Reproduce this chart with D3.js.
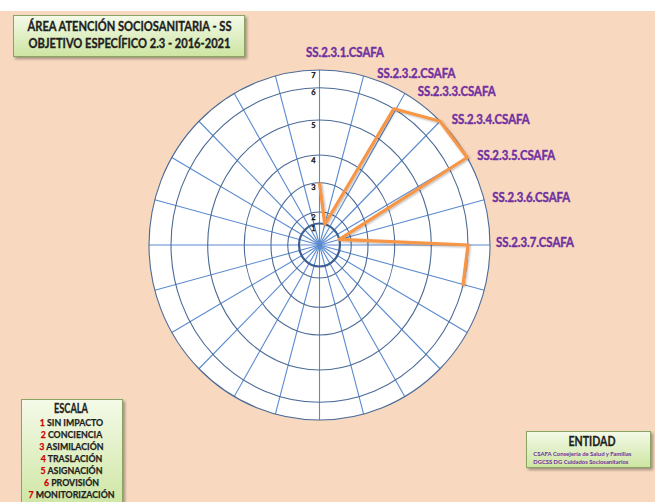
<!DOCTYPE html>
<html><head><meta charset="utf-8">
<script src="https://cdn.jsdelivr.net/npm/d3@7"></script>
<style>body{margin:0;background:#fff;} svg{display:block;}</style>
</head><body>
<svg id="c" width="655" height="502"></svg>
<script>
// ---------- data ----------
const categories = ["SS.2.3.1.CSAFA","SS.2.3.2.CSAFA","SS.2.3.3.CSAFA","SS.2.3.4.CSAFA","SS.2.3.5.CSAFA","SS.2.3.6.CSAFA","SS.2.3.7.CSAFA",
  "","","","","","","","","","","","","","","","",""];
const values = [3,1,6,7,7,1,6,6,null,null,null,null,null,null,null,null,null,null,null,null,null,null,null,null];
const tickValues = [1,2,3,4,5,6,7];
const titleLines = ["ÁREA ATENCIÓN SOCIOSANITARIA - SS","OBJETIVO ESPECÍFICO 2.3 - 2016-2021"];
const scaleTitle = "ESCALA";
const scaleNumbers = ["1","2","3","4","5","6","7"];
const scaleLevels = ["SIN IMPACTO","CONCIENCIA","ASIMILACIÓN","TRASLACIÓN","ASIGNACIÓN","PROVISIÓN","MONITORIZACIÓN"];
const entityTitle = "ENTIDAD";
const entityLines = ["CSAFA Consejería de Salud y Familias","DGCSS DG Cuidados Sociosanitarios"];

// ---------- setup ----------
const svg = d3.select("#c");
const W = 655, H = 502;
const FONT = "Lato, 'Open Sans', 'Liberation Sans', sans-serif";
const defs = svg.append("defs");
const g1 = defs.append("linearGradient").attr("id","gbox").attr("x1",0).attr("y1",0).attr("x2",0).attr("y2",1);
g1.append("stop").attr("offset","0%").attr("stop-color","#F4FAE8");
g1.append("stop").attr("offset","100%").attr("stop-color","#CDE5A2");
const sh = defs.append("filter").attr("id","shadow").attr("x","-10%").attr("y","-10%").attr("width","130%").attr("height","140%");
sh.append("feDropShadow").attr("dx",2).attr("dy",2).attr("stdDeviation",1.5).attr("flood-color","#000").attr("flood-opacity",0.35);
const lsh = defs.append("filter").attr("id","lshadow").attr("x","-10%").attr("y","-10%").attr("width","130%").attr("height","130%");
lsh.append("feDropShadow").attr("dx",1).attr("dy",1).attr("stdDeviation",1).attr("flood-color","#000").attr("flood-opacity",0.3);

// background
svg.append("rect").attr("x",0).attr("y",0).attr("width",W).attr("height",H).attr("fill","#ffffff");
svg.append("rect").attr("x",0).attr("y",11).attr("width",W).attr("height",H-11).attr("fill","#F8D9C0");

// ---------- radar ----------
const cx = 319.5, cy = 245;
const n = categories.length;
const angle = d3.scaleLinear().domain([0, n]).range([0, 2*Math.PI]);
// radial scales (the reference chart's rings are unevenly spaced & slightly elliptical)
const rX = d3.scaleLinear().domain([0,1,2,3,4,5,6,7]).range([0,20.5,31.8,48.5,75.2,111.8,148.5,170.5]);
const rY = d3.scaleLinear().domain([0,1,2,3,4,5,6,7]).range([0,21.5,33,62.3,90,125,157.3,175]);
const px = (i, v) => cx + rX(v) * Math.sin(angle(i));
const py = (i, v) => cy - rY(v) * Math.cos(angle(i));
const maxV = 7;

const chart = svg.append("g");
chart.append("ellipse").attr("cx",cx).attr("cy",cy).attr("rx",rX(maxV)).attr("ry",rY(maxV)).attr("fill","#ffffff");
chart.selectAll("line.spoke").data(d3.range(n)).join("line").attr("class","spoke")
  .attr("x1",cx).attr("y1",cy).attr("x2",i=>px(i,maxV)).attr("y2",i=>py(i,maxV))
  .attr("stroke","#5A8AD0").attr("stroke-width",1.1);
chart.selectAll("ellipse.ring").data(tickValues).join("ellipse").attr("class","ring")
  .attr("cx",cx).attr("cy",cy).attr("rx",d=>rX(d)).attr("ry",d=>rY(d))
  .attr("fill","none")
  .attr("stroke", d => d===1 ? "#3D5F8F" : "#4C6B96")
  .attr("stroke-width", d => d===1 ? 2.2 : 1.1);

chart.selectAll("text.tick").data(tickValues).join("text").attr("class","tick")
  .attr("x",cx-6).attr("y",d=>cy-rY(d)+7.5)
  .attr("text-anchor","middle")
  .attr("font-family",FONT).attr("font-weight","bold").attr("font-size",7.5).attr("fill","#111")
  .attr("stroke","#111").attr("stroke-width",0.25)
  .text(d=>d);

const line = d3.line().defined(d=>d.v!=null).x(d=>px(d.i,d.v)).y(d=>py(d.i,d.v));
chart.append("path").datum(values.map((v,i)=>({i,v})))
  .attr("d",line).attr("fill","none").attr("stroke","#F79646").attr("stroke-width",3.2)
  .attr("stroke-linejoin","round").attr("filter","url(#lshadow)");

const labelData = categories.map((c,i)=>({c,i})).filter(d=>d.c!=="");
chart.selectAll("text.cat").data(labelData).join("text").attr("class","cat")
  .attr("x", d => d.i===0 ? px(d.i,maxV)-13.5 : px(d.i,maxV) + 6 + 8*Math.cos(angle(d.i)))
  .attr("y", d => d.i===0 ? py(d.i,maxV)-17 : py(d.i,maxV)-2)
  .attr("dy","0.35em")
  .attr("font-family",FONT).attr("font-weight","bold").attr("font-size",12.5).attr("fill","#7030A0")
  .attr("stroke","#7030A0").attr("stroke-width",0.4)
  .attr("textLength",78).attr("lengthAdjust","spacingAndGlyphs")
  .text(d=>d.c);

// ---------- title box ----------
svg.append("rect").attr("x",13.5).attr("y",15.5).attr("width",231).attr("height",41)
  .attr("fill","url(#gbox)").attr("stroke","#8AA464").attr("stroke-width",1).attr("filter","url(#shadow)");
svg.selectAll("text.title").data(titleLines).join("text").attr("class","title")
  .attr("x",129.5).attr("y",(d,i)=>26+i*17.3).attr("dy","0.35em").attr("text-anchor","middle")
  .attr("font-family",FONT).attr("font-weight","bold").attr("font-size",13.5).attr("fill","#1E1E1E")
  .attr("stroke","#1E1E1E").attr("stroke-width",0.35)
  .attr("textLength",(d,i)=> i===0?204:202).attr("lengthAdjust","spacingAndGlyphs")
  .text(d=>d);

// ---------- scale box ----------
svg.append("rect").attr("x",21.5).attr("y",399.5).attr("width",101).attr("height",110)
  .attr("fill","url(#gbox)").attr("stroke","#8AA464").attr("stroke-width",1).attr("filter","url(#shadow)");
svg.append("text").attr("x",71).attr("y",408.3).attr("dy","0.35em").attr("text-anchor","middle")
  .attr("font-family",FONT).attr("font-weight","bold").attr("font-size",12.5).attr("fill","#1E1E1E")
  .attr("stroke","#1E1E1E").attr("stroke-width",0.3)
  .attr("textLength",34).attr("lengthAdjust","spacingAndGlyphs")
  .text(scaleTitle);
const sl = svg.selectAll("text.lvl").data(scaleLevels).join("text").attr("class","lvl")
  .attr("x",71.5).attr("y",(d,i)=>422+i*12.05).attr("dy","0.35em").attr("text-anchor","middle")
  .attr("font-family",FONT).attr("font-weight","bold").attr("font-size",10).attr("fill","#1E1E1E")
  .attr("stroke","#1E1E1E").attr("stroke-width",0.25);
sl.append("tspan").attr("fill","#D00000").attr("stroke","#D00000").text((d,i)=>scaleNumbers[i]+" ");
sl.append("tspan").text(d=>d);
sl.each(function(){ const w=this.getComputedTextLength(); d3.select(this).attr("textLength", w*0.88).attr("lengthAdjust","spacingAndGlyphs"); });

// ---------- entity box ----------
svg.append("rect").attr("x",526.5).attr("y",431.5).attr("width",124).attr("height",36)
  .attr("fill","url(#gbox)").attr("stroke","#8AA464").attr("stroke-width",1).attr("filter","url(#shadow)");
svg.append("text").attr("x",592).attr("y",441.7).attr("dy","0.35em").attr("text-anchor","middle")
  .attr("font-family",FONT).attr("font-weight","bold").attr("font-size",13).attr("fill","#1E1E1E")
  .attr("stroke","#1E1E1E").attr("stroke-width",0.3)
  .attr("textLength",47).attr("lengthAdjust","spacingAndGlyphs")
  .text(entityTitle);
svg.selectAll("text.ent").data(entityLines).join("text").attr("class","ent")
  .attr("x",533.3).attr("y",(d,i)=>454.3+i*7.8).attr("dy","0.35em")
  .attr("font-family",FONT).attr("font-weight","bold").attr("font-size",6).attr("fill","#7030A0")
  .attr("textLength",(d,i)=> i===0?98:95).attr("lengthAdjust","spacingAndGlyphs")
  .text(d=>d);
</script>
</body></html>
